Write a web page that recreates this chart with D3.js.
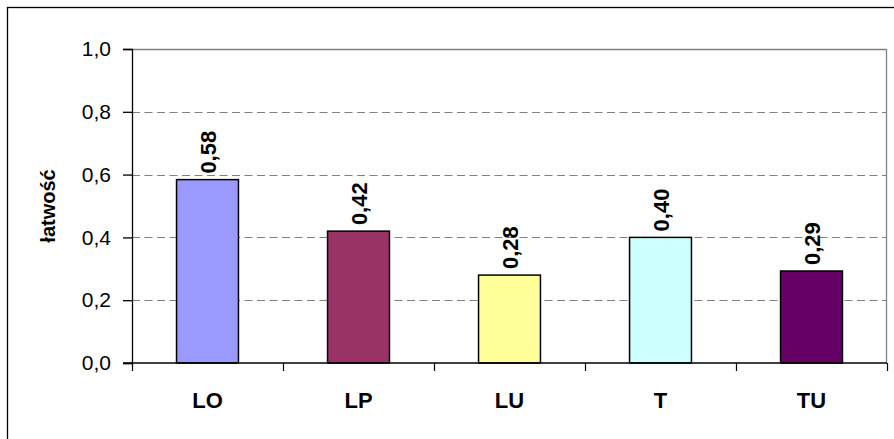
<!DOCTYPE html>
<html>
<head>
<meta charset="utf-8">
<script src="https://cdn.jsdelivr.net/npm/d3@7"></script>
<style>
    body { margin: 0; background: #fff; }
    svg { display: block; font-family: "Liberation Sans", Arial, sans-serif; }
</style>
</head>
<body>
<div id="chart"></div>
<script>
var categories = ["LO", "LP", "LU", "T", "TU"];
var values = [0.584, 0.42, 0.28, 0.40, 0.293];
var colors = ["#9999FF", "#993366", "#FFFF99", "#CCFFFF", "#660066"];
var yTicks = [0, 0.2, 0.4, 0.6, 0.8, 1.0];
var yTitle = "łatwość";

var W = 894, H = 439;
var margin = {top: 49, right: 7, bottom: 76, left: 132},
    width = W - margin.left - margin.right,
    height = H - margin.top - margin.bottom;

var comma = function (v, d) { return v.toFixed(d).replace(".", ","); };

var svg = d3.select("#chart").append("svg")
    .attr("width", W)
    .attr("height", H);

// outer chart border
svg.append("rect")
    .attr("x", 7.5).attr("y", 7.5)
    .attr("width", W).attr("height", H)
    .attr("fill", "none")
    .attr("stroke", "#000")
    .attr("stroke-width", 1.3);

var g = svg.append("g")
    .attr("transform", "translate(" + margin.left + "," + margin.top + ")");

var x = d3.scaleBand().domain(categories).range([0, width]).paddingInner(0.59).paddingOuter(0.295);
var xb = d3.scaleBand().domain(categories).range([0, width]);
var y = d3.scaleLinear().domain([0, 1]).range([height, 0]);

// dashed grid
g.selectAll(".grid")
    .data(yTicks.filter(function (d) { return d > 0 && d < 1; }))
    .enter().append("line")
    .attr("x1", 0).attr("x2", width)
    .attr("y1", function (d) { return Math.round(y(d)) + 0.5; })
    .attr("y2", function (d) { return Math.round(y(d)) + 0.5; })
    .attr("stroke", "#808080")
    .attr("stroke-width", 1.2)
    .attr("stroke-dasharray", "8,4.5");

// plot frame top/right in gray
g.append("path")
    .attr("d", "M0," + 0.5 + "H" + (width - 0.5) + "V" + height)
    .attr("fill", "none")
    .attr("stroke", "#808080")
    .attr("stroke-width", 1.3);

// bars
g.selectAll(".bar")
    .data(values)
    .enter().append("rect")
    .attr("x", function (d, i) { return x(categories[i]); })
    .attr("y", function (d) { return y(d); })
    .attr("width", x.bandwidth())
    .attr("height", function (d) { return height - y(d); })
    .attr("fill", function (d, i) { return colors[i]; })
    .attr("stroke", "#000")
    .attr("stroke-width", 1.5);

// value labels
g.selectAll(".lbl")
    .data(values)
    .enter().append("text")
    .attr("transform", function (d, i) {
        return "translate(" + (x(categories[i]) + x.bandwidth() / 2 + 8) + "," + (y(d) - 6) + ") rotate(-90)";
    })
    .attr("font-size", 22)
    .attr("font-weight", "bold")
    .attr("text-anchor", "start")
    .text(function (d) { return comma(d, 2); });

// y axis
var yAxis = g.append("g")
    .call(d3.axisLeft(y).tickValues(yTicks).tickSize(9).tickPadding(12)
        .tickFormat(function (d) { return comma(d, 1); }));
yAxis.select(".domain").attr("stroke", "#000").attr("stroke-width", 1.3);
yAxis.selectAll(".tick line").attr("stroke", "#000").attr("stroke-width", 1.3);
yAxis.selectAll(".tick text")
    .attr("font-size", 21)
    .attr("font-family", "Liberation Sans, Arial, sans-serif")
    .attr("fill", "#000");

// x axis with boundary ticks
var xAxis = g.append("g")
    .attr("transform", "translate(0," + height + ")");
xAxis.append("line")
    .attr("x1", -9).attr("x2", width)
    .attr("stroke", "#000").attr("stroke-width", 1.3);
xAxis.selectAll(".xt")
    .data(categories.concat(["end"]))
    .enter().append("line")
    .attr("x1", function (d, i) { return Math.round(i * xb.bandwidth()) + 0.5; })
    .attr("x2", function (d, i) { return Math.round(i * xb.bandwidth()) + 0.5; })
    .attr("y1", 0).attr("y2", 8)
    .attr("stroke", "#000").attr("stroke-width", 1.2);
xAxis.selectAll(".xl")
    .data(categories)
    .enter().append("text")
    .attr("x", function (d) { return xb(d) + xb.bandwidth() / 2; })
    .attr("y", 45)
    .attr("text-anchor", "middle")
    .attr("font-size", 22)
    .attr("font-weight", "bold")
    .text(function (d) { return d; });

// y title
svg.append("text")
    .attr("transform", "translate(55," + (margin.top + height / 2) + ") rotate(-90)")
    .attr("text-anchor", "middle")
    .attr("font-size", 20)
    .attr("font-weight", "bold")
    .text(yTitle);
</script>
</body>
</html>
